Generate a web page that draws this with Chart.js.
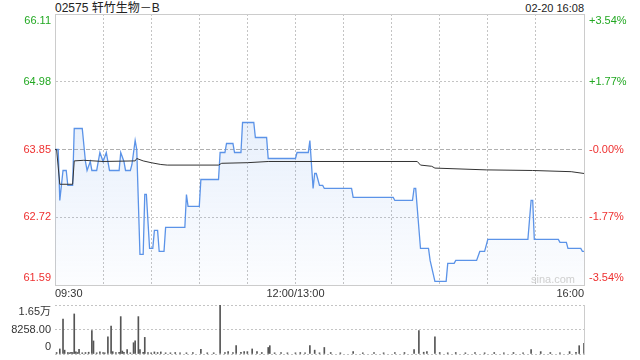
<!DOCTYPE html>
<html>
<head>
<meta charset="utf-8">
<script src="https://cdn.jsdelivr.net/npm/chart.js@4.4.0/dist/chart.umd.min.js"></script>
<style>
body { margin: 0; background: #fff; width: 640px; height: 360px; overflow: hidden; position: relative;
       font-family: 'Liberation Sans', Arial, 'Noto Sans CJK SC', sans-serif; }
#title { position: absolute; left: 55px; top: 1px; font-size: 12px; line-height: 14px; color: #222; }
#stamp { position: absolute; right: 56px; top: 1px; font-size: 11px; line-height: 14px; color: #222; }
#mark { position: absolute; left: 531px; top: 273px; font-size: 11px; color: #cfcfcf; }
.box { position: absolute; left: 0; width: 640px; }
</style>
</head>
<body>
<div id="title">02575 轩竹生物－B</div>
<div id="stamp">02-20 16:08</div>
<div class="box" style="top:0;height:300px"><canvas id="price-chart"></canvas></div>
<div class="box" style="top:300px;height:60px"><canvas id="vol-chart"></canvas></div>
<div id="mark">sina.com</div>
<script>
// 기준가 (전일 종가)
const prevClose = 63.85;

// 분 단위 (09:30 = 0, 16:00 = 330) 가격 꺾임점
const priceMinutes = [0, 2, 3, 5, 7, 8, 11, 12, 17, 19, 20, 22, 23, 26, 28, 30, 32, 34, 40, 41, 43, 44, 47, 48, 50, 51, 53, 55, 56, 57,
    59, 61, 62, 64, 65, 68, 69, 81, 82, 83, 90, 91, 102, 103, 106, 107, 111, 112, 116, 117, 124, 125, 132, 133, 150, 151, 158, 159, 161, 162,
    163, 165, 167, 168, 185, 186, 211, 212, 223, 224, 225, 228, 233, 234, 237, 244, 245, 249, 250, 263, 265, 268, 270, 295, 297, 298, 299, 314, 315, 319,
    320, 328, 329, 330];
const priceValues = [63.85, 63.85, 63.00, 63.50, 63.50, 63.25, 63.25, 64.20, 64.20, 63.65, 63.50, 63.65, 63.50, 63.50, 63.80, 63.65, 63.80, 63.50, 63.50, 63.80,
    63.65, 63.50, 63.50, 63.60, 64.00, 63.85, 62.10, 62.10, 63.10, 63.10, 62.20, 62.20, 62.50, 62.50, 62.15, 62.15, 62.55, 62.55, 63.10, 62.90,
    62.90, 63.35, 63.35, 63.80, 63.80, 63.95, 63.95, 63.80, 63.80, 64.30, 64.30, 64.05, 64.05, 63.70, 63.70, 63.80, 63.80, 64.00, 63.20, 63.45,
    63.45, 63.25, 63.25, 63.20, 63.20, 63.05, 63.05, 63.00, 63.00, 63.20, 63.20, 62.20, 62.20, 62.00, 61.65, 61.65, 61.95, 61.95, 62.00, 62.00,
    62.15, 62.15, 62.35, 62.35, 63.00, 63.00, 62.35, 62.35, 62.30, 62.30, 62.20, 62.20, 62.15, 62.15];

// 평균가
const avgMinutes = [0, 1, 3, 11, 12, 18, 30, 50, 51, 55, 60, 66, 70, 102, 104, 120, 133, 226, 228, 235, 237, 269, 298, 322, 330];
const avgValues = [63.85, 63.85, 63.27, 63.27, 63.66, 63.67, 63.65, 63.66, 63.70, 63.66, 63.63, 63.60, 63.59, 63.59, 63.62, 63.63, 63.65, 63.65, 63.59, 63.57,
    63.54, 63.51, 63.50, 63.48, 63.45];

// 거래량
const volMinutes = [1, 3, 5, 6, 8, 9, 10, 11, 12, 13, 14, 15, 17, 19, 21, 23, 24, 26, 28, 30, 31, 33, 35, 36, 38, 40, 41, 42, 43, 45,
    47, 49, 50, 52, 53, 55, 56, 58, 60, 62, 64, 66, 69, 72, 75, 78, 82, 86, 91, 95, 99, 103, 106, 108, 111, 113, 116, 118, 120, 123,
    126, 129, 133, 134, 137, 141, 145, 150, 153, 156, 159, 162, 165, 168, 172, 178, 186, 192, 199, 205, 212, 218, 224, 227, 230, 232, 237, 240, 245, 250,
    256, 262, 268, 274, 280, 286, 292, 297, 303, 309, 315, 321, 325, 327, 330];
const volValues = [500, 1700, 11800, 1300, 500, 400, 600, 500, 13500, 700, 500, 1600, 400, 500, 600, 7900, 4400, 400, 700, 500, 400, 5800, 9400, 800, 500, 600, 12600, 1000, 600, 1500,
    400, 3800, 4400, 12600, 1500, 600, 5600, 500, 400, 700, 500, 700, 400, 400, 500, 400, 400, 500, 1600, 400, 400, 16500, 500, 800, 500, 2800, 600, 800, 800, 1700,
    800, 500, 2200, 2800, 400, 500, 400, 400, 500, 400, 2800, 1300, 400, 2200, 500, 400, 800, 400, 500, 400, 500, 500, 1500, 7900, 600, 800, 5800, 500, 400, 500,
    400, 500, 400, 500, 400, 500, 400, 1500, 800, 500, 400, 800, 600, 2800, 3600];

// 축 눈금
const priceTicks = [61.59, 62.72, 63.85, 64.98, 66.11];
const priceLabels = ['61.59', '62.72', '63.85', '64.98', '66.11'];
const pctLabels = ['-3.54%', '-1.77%', '-0.00%', '+1.77%', '+3.54%'];
const timeTicks = [0, 30, 60, 90, 120, 150, 180, 210, 240, 270, 300, 330];
const timeLabels = ['09:30', '', '', '', '', '12:00/13:00', '', '', '', '', '', '16:00'];
const volTicks = [0, 8258, 16516];
const volLabels = ['0', '8258.00', '1.65万'];

const GREEN = '#22a822';
const RED = '#ee3030';
const EDGE = '#cccccc';
const DOT = '#c4c4c4';

Chart.defaults.font.family = "'Liberation Sans', Arial, 'Noto Sans CJK SC', sans-serif";
Chart.defaults.font.size = 11;

function toPoints(xs, ys) {
    return xs.map((x, i) => ({ x: x, y: ys[i] }));
}

// 첫/끝 라벨을 안쪽으로 밀기
function innerLabel(labels, i) {
    if (i === 0) return [labels[i], ''];
    if (i === labels.length - 1) return ['', labels[i]];
    return labels[i];
}

function fixWidth(w) {
    return function (scale) {
        scale.width = w;
        scale.paddingTop = 0;
        scale.paddingBottom = 0;
    };
}

function priceColor(ctx) {
    return ctx.tick && ctx.tick.value > prevClose + 0.001 ? GREEN : RED;
}

function createPriceChart() {
    const ctx = document.getElementById('price-chart').getContext('2d');
    new Chart(ctx, {
        type: 'line',
        data: {
            datasets: [{
                label: 'avg',
                data: toPoints(avgMinutes, avgValues),
                borderColor: '#333',
                borderWidth: 1,
                pointRadius: 0,
                fill: false,
                order: 0
            }, {
                label: 'price',
                data: toPoints(priceMinutes, priceValues),
                borderColor: '#5b93e8',
                borderWidth: 1.3,
                pointRadius: 0,
                fill: 'start',
                backgroundColor: function (c) {
                    const a = c.chart.chartArea;
                    if (!a) return 'rgba(91,147,232,0.1)';
                    const g = c.chart.ctx.createLinearGradient(0, a.top, 0, a.bottom);
                    g.addColorStop(0, 'rgba(91,147,232,0.22)');
                    g.addColorStop(1, 'rgba(91,147,232,0.02)');
                    return g;
                },
                order: 1
            }]
        },
        options: {
            animation: false,
            responsive: true,
            maintainAspectRatio: false,
            layout: { padding: { top: 14, left: 0, right: 0, bottom: 0 } },
            plugins: { legend: { display: false }, tooltip: { enabled: false } },
            scales: {
                x: {
                    type: 'linear',
                    min: 0,
                    max: 330,
                    afterBuildTicks: s => { s.ticks = timeTicks.map(v => ({ value: v })); },
                    afterFit: s => { s.height = 15; },
                    ticks: {
                        autoSkip: false,
                        maxRotation: 0,
                        align: 'inner',
                        padding: 2,
                        color: '#333',
                        callback: (v, i) => timeLabels[i]
                    },
                    grid: {
                        drawTicks: false,
                        color: c => (c.tick && (c.tick.value === 0 || c.tick.value === 330)) ? 'rgba(0,0,0,0)' : DOT
                    },
                    border: { display: true, color: EDGE, dash: c => c.tick ? [2, 2] : [] }
                },
                y: {
                    position: 'left',
                    min: priceTicks[0],
                    max: priceTicks[priceTicks.length - 1],
                    afterBuildTicks: s => { s.ticks = priceTicks.map(v => ({ value: v })); },
                    afterFit: fixWidth(55),
                    ticks: {
                        autoSkip: false,
                        padding: 4,
                        color: priceColor,
                        callback: (v, i) => innerLabel(priceLabels, i)
                    },
                    grid: {
                        drawTicks: false,
                        color: c => {
                            if (!c.tick) return EDGE;
                            if (c.index === 0 || c.index === priceTicks.length - 1) return EDGE;
                            if (Math.abs(c.tick.value - prevClose) < 0.001) return '#b0b0b0';
                            return DOT;
                        }
                    },
                    border: {
                        display: true,
                        color: EDGE,
                        dash: c => {
                            if (!c.tick) return [];
                            if (c.index === 0 || c.index === priceTicks.length - 1) return [];
                            if (Math.abs(c.tick.value - prevClose) < 0.001) return [4, 2];
                            return [2, 2];
                        }
                    }
                },
                y2: {
                    position: 'right',
                    min: priceTicks[0],
                    max: priceTicks[priceTicks.length - 1],
                    afterBuildTicks: s => { s.ticks = priceTicks.map(v => ({ value: v })); },
                    afterFit: fixWidth(56),
                    ticks: {
                        autoSkip: false,
                        padding: 5,
                        color: priceColor,
                        callback: (v, i) => innerLabel(pctLabels, i)
                    },
                    grid: { display: false, drawTicks: false },
                    border: { display: true, color: EDGE }
                }
            }
        }
    });
}

function createVolumeChart() {
    const ctx = document.getElementById('vol-chart').getContext('2d');
    new Chart(ctx, {
        type: 'bar',
        data: {
            datasets: [{
                data: toPoints(volMinutes, volValues),
                backgroundColor: '#555',
                barThickness: 1,
                borderWidth: 0
            }]
        },
        options: {
            animation: false,
            responsive: true,
            maintainAspectRatio: false,
            layout: { padding: { top: 5, bottom: 6, left: 0, right: 0 } },
            plugins: { legend: { display: false }, tooltip: { enabled: false } },
            scales: {
                x: { type: 'linear', min: 0, max: 330, offset: false, display: false, grid: { offset: false } },
                y: {
                    position: 'left',
                    min: 0,
                    max: volTicks[volTicks.length - 1],
                    afterBuildTicks: s => { s.ticks = volTicks.map(v => ({ value: v })); },
                    afterFit: fixWidth(55),
                    ticks: {
                        autoSkip: false,
                        padding: 4,
                        color: '#333',
                        callback: (v, i) => innerLabel(volLabels, i)
                    },
                    grid: { drawTicks: false, color: DOT, lineWidth: 1 },
                    border: { display: false, color: EDGE, dash: [2, 2] }
                },
                yr: {
                    position: 'right',
                    min: 0,
                    max: volTicks[volTicks.length - 1],
                    afterFit: fixWidth(56),
                    ticks: { display: false },
                    grid: { display: false, drawTicks: false },
                    border: { display: true, color: EDGE }
                }
            }
        }
    });
}

createPriceChart();
createVolumeChart();
</script>
</body>
</html>
